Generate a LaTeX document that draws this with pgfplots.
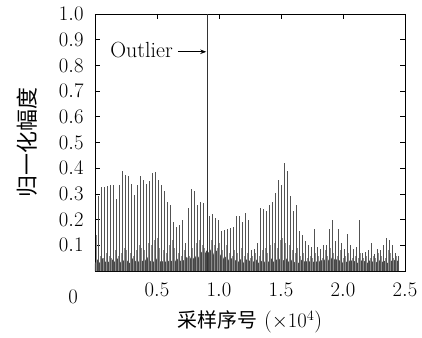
\documentclass[border=0pt]{standalone}
\usepackage{pgfplots}
\pgfplotsset{compat=1.18}
\usepackage{fontspec}
\newfontfamily\cjk{Noto Sans CJK SC}
\usetikzlibrary{arrows.meta}
\begin{document}
\begin{tikzpicture}
\begin{axis}[
  name=ax,
  scale only axis,
  width=310bp, height=257bp,
  xmin=0, xmax=2.5, ymin=0, ymax=1.0,
  axis line style={line width=0.8bp, black},
  xtick={0.5,1.0,1.5,2.0,2.5},
  ytick={0.1,0.2,0.3,0.4,0.5,0.6,0.7,0.8,0.9,1.0},
  tick align=inside,
  major tick length=5bp,
  tick style={line width=0.6bp, black},
  xticklabel style={yshift=-9bp},
  yticklabel style={xshift=-8bp},
  /pgf/number format/fixed,
  /pgf/number format/fixed zerofill,
  /pgf/number format/precision=1,
  tick label style={font=\fontsize{22}{26}\selectfont},
  label style={font=\fontsize{22}{26}\selectfont},
  xlabel={{\cjk\fontsize{20}{24}\selectfont 采样序号} ($\times10^4$)},
  ylabel={\cjk 归一化幅度},
  xlabel style={at={(axis description cs:0.5,-0.198)}, anchor=center},
  ylabel style={at={(axis description cs:-0.22,0.5)}, anchor=center},
  clip=true,
]
% dense low-level noise band
\addplot[draw=none, fill=black!72] coordinates {
(0.00,0.03)(0.02,0.045)(0.04,0.03)(0.06,0.05)(0.08,0.035)(0.10,0.04)(0.12,0.03)(0.14,0.045)(0.16,0.035)(0.18,0.05)
(0.20,0.03)(0.22,0.045)(0.24,0.035)(0.26,0.04)(0.28,0.03)(0.30,0.05)(0.32,0.035)(0.34,0.045)(0.36,0.03)(0.38,0.04)
(0.40,0.035)(0.42,0.055)(0.44,0.035)(0.46,0.045)(0.48,0.03)(0.50,0.05)(0.52,0.035)(0.54,0.04)(0.56,0.03)(0.58,0.045)
(0.60,0.035)(0.62,0.04)(0.64,0.03)(0.66,0.05)(0.68,0.035)(0.70,0.045)(0.72,0.04)(0.74,0.055)(0.76,0.04)(0.78,0.06)
(0.80,0.045)(0.82,0.065)(0.84,0.05)(0.86,0.075)(0.88,0.06)(0.90,0.08)(0.92,0.07)(0.94,0.09)(0.96,0.06)(0.98,0.08)
(1.00,0.05)(1.02,0.07)(1.04,0.045)(1.06,0.06)(1.08,0.04)(1.10,0.05)(1.12,0.035)(1.14,0.045)(1.16,0.035)(1.18,0.05)
(1.20,0.03)(1.22,0.045)(1.24,0.035)(1.26,0.05)(1.28,0.035)(1.30,0.045)(1.32,0.03)(1.34,0.04)(1.36,0.03)(1.38,0.045)
(1.40,0.035)(1.42,0.05)(1.44,0.035)(1.46,0.045)(1.48,0.04)(1.50,0.055)(1.52,0.04)(1.54,0.05)(1.56,0.035)(1.58,0.045)
(1.60,0.03)(1.62,0.04)(1.64,0.03)(1.66,0.045)(1.68,0.035)(1.70,0.04)(1.72,0.03)(1.74,0.045)(1.76,0.035)(1.78,0.04)
(1.80,0.03)(1.82,0.045)(1.84,0.035)(1.86,0.05)(1.88,0.04)(1.90,0.055)(1.92,0.04)(1.94,0.05)(1.96,0.035)(1.98,0.045)
(2.00,0.03)(2.02,0.04)(2.04,0.03)(2.06,0.045)(2.08,0.035)(2.10,0.04)(2.12,0.03)(2.14,0.045)(2.16,0.035)(2.18,0.04)
(2.20,0.03)(2.22,0.045)(2.24,0.035)(2.26,0.04)(2.28,0.03)(2.30,0.045)(2.32,0.035)(2.34,0.04)(2.36,0.03)(2.38,0.045)
(2.40,0.035)(2.42,0.045)(2.44,0.04)(2.45,0.03)
} \closedcycle;
% secondary (small) spikes
\addplot[ycomb, black!45, line width=0.5bp, mark=none] coordinates {
(0.010,0.14)
(0.039,0.06)(0.063,0.05)(0.087,0.07)(0.111,0.06)(0.135,0.05)(0.160,0.08)(0.184,0.06)(0.208,0.07)(0.232,0.09)(0.256,0.08)
(0.281,0.07)(0.305,0.06)(0.329,0.08)(0.353,0.10)(0.377,0.09)(0.401,0.08)(0.426,0.11)(0.450,0.10)(0.474,0.12)(0.498,0.13)
(0.522,0.09)(0.547,0.08)(0.571,0.07)(0.595,0.10)(0.619,0.12)(0.643,0.09)(0.668,0.07)(0.692,0.06)(0.716,0.08)(0.740,0.05)
(0.764,0.06)(0.788,0.09)(0.813,0.11)(0.837,0.12)(0.861,0.10)(0.885,0.09)(0.909,0.08)(0.934,0.12)(0.958,0.10)(0.982,0.09)
(1.006,0.11)(1.030,0.08)(1.055,0.10)(1.079,0.07)(1.103,0.06)(1.127,0.08)(1.151,0.07)(1.176,0.09)(1.200,0.06)(1.224,0.07)
(1.248,0.05)(1.272,0.06)(1.296,0.07)(1.321,0.06)(1.345,0.08)(1.369,0.09)(1.393,0.07)(1.417,0.10)(1.442,0.11)(1.466,0.09)
(1.490,0.12)(1.514,0.13)(1.538,0.11)(1.563,0.10)(1.587,0.08)(1.611,0.07)(1.635,0.09)(1.659,0.06)(1.683,0.07)(1.708,0.05)
(1.732,0.06)(1.756,0.05)(1.780,0.07)(1.804,0.06)(1.829,0.05)(1.853,0.08)(1.877,0.06)(1.901,0.09)(1.925,0.07)(1.950,0.06)
(1.974,0.08)(1.998,0.05)(2.022,0.06)(2.046,0.07)(2.071,0.05)(2.095,0.06)(2.119,0.05)(2.143,0.07)(2.167,0.05)(2.191,0.06)
(2.216,0.05)(2.240,0.06)(2.264,0.05)(2.288,0.07)(2.312,0.06)(2.337,0.05)(2.361,0.08)(2.385,0.07)(2.409,0.05)(2.433,0.06)
};
% main periodic spikes
\addplot[ycomb, black!68, line width=0.6bp, mark=none] coordinates {
(0.027,0.29)(0.051,0.325)(0.075,0.325)(0.099,0.33)(0.123,0.335)(0.148,0.335)(0.172,0.28)(0.196,0.335)(0.220,0.39)(0.244,0.375)
(0.269,0.37)(0.293,0.34)(0.317,0.295)(0.341,0.335)(0.365,0.37)(0.389,0.355)(0.414,0.34)(0.438,0.35)(0.462,0.38)(0.486,0.385)
(0.510,0.355)(0.535,0.335)(0.559,0.31)(0.583,0.27)(0.607,0.255)(0.631,0.19)(0.656,0.17)(0.680,0.18)(0.704,0.2)(0.728,0.11)
(0.752,0.245)(0.776,0.32)(0.801,0.31)(0.825,0.255)(0.849,0.27)(0.873,0.265)
(0.922,0.215)(0.946,0.22)(0.970,0.205)(0.994,0.2)(1.018,0.155)(1.043,0.16)(1.067,0.165)(1.091,0.168)(1.115,0.172)(1.139,0.215)
(1.164,0.215)(1.188,0.19)(1.212,0.225)(1.236,0.2)(1.260,0.08)(1.284,0.085)(1.309,0.11)(1.333,0.245)(1.357,0.24)(1.381,0.235)
(1.405,0.255)(1.430,0.27)(1.454,0.305)(1.478,0.355)(1.502,0.335)(1.526,0.42)(1.551,0.39)(1.575,0.29)(1.599,0.235)(1.623,0.255)
(1.647,0.155)(1.671,0.14)(1.696,0.115)(1.720,0.1)(1.744,0.095)(1.768,0.165)(1.792,0.095)(1.817,0.085)(1.841,0.1)(1.865,0.1)
(1.889,0.165)(1.913,0.2)(1.938,0.115)(1.962,0.165)(1.986,0.11)(2.010,0.085)(2.034,0.145)(2.059,0.1)(2.083,0.085)(2.107,0.095)
(2.131,0.2)(2.155,0.07)(2.179,0.075)(2.204,0.08)(2.228,0.11)(2.252,0.065)(2.276,0.085)(2.300,0.08)(2.325,0.1)(2.349,0.13)
(2.373,0.12)(2.397,0.1)(2.421,0.07)(2.446,0.06)
};
% outlier
\addplot[ycomb, black!80, line width=0.7bp, mark=none] coordinates {(0.903,1.0)};
% annotation
\node[anchor=base east, inner sep=0pt, font=\fontsize{22}{26}\selectfont] at (axis cs:0.629,0.829) {Outlier};
\draw[-{Stealth[length=6bp,width=4.5bp]}, line width=0.6bp] (axis cs:0.669,0.853) -- (axis cs:0.897,0.853);
\end{axis}
\node[font=\fontsize{22}{26}\selectfont] at ([xshift=-22bp,yshift=-26bp]ax.south west) {$0$};
\pgfresetboundingbox
\path ([shift={(-95bp,-67bp)}]ax.south west) rectangle ([shift={(17bp,14bp)}]ax.north east);
\end{tikzpicture}
\end{document}
